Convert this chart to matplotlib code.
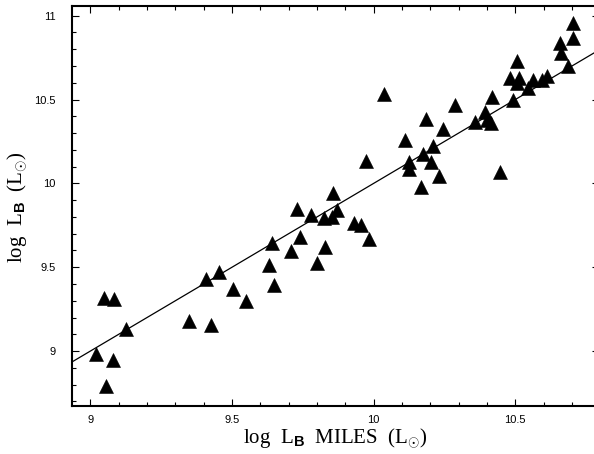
import numpy as np
import matplotlib
matplotlib.use("Agg")
import matplotlib.pyplot as plt
from matplotlib.ticker import MultipleLocator, FuncFormatter

plt.rcParams['mathtext.fontset'] = 'custom'
plt.rcParams['mathtext.rm'] = 'Liberation Serif'
plt.rcParams['mathtext.bf'] = 'Liberation Sans:bold'

# log L_B from MILES (x) against log L_B from photometry (y)
log_lb_miles = [9.021, 9.056, 9.078, 9.049, 9.082, 9.127, 9.347, 9.409, 9.426, 9.453,
                9.505, 9.550, 9.629, 9.641, 9.647, 9.708, 9.741, 9.729, 9.778, 9.800,
                9.829, 9.823, 9.853, 9.870, 9.856, 9.931, 9.955, 9.985, 9.974, 10.035,
                10.111, 10.123, 10.123, 10.166, 10.174, 10.184, 10.202, 10.211, 10.232, 10.246,
                10.287, 10.358, 10.393, 10.399, 10.413, 10.417, 10.446, 10.493, 10.481, 10.514,
                10.506, 10.505, 10.546, 10.562, 10.593, 10.611, 10.658, 10.660, 10.686, 10.703,
                10.705]
log_lb = [8.980, 8.791, 8.946, 9.314, 9.308, 9.131, 9.181, 9.429, 9.155, 9.469,
          9.370, 9.300, 9.513, 9.642, 9.394, 9.596, 9.682, 9.845, 9.811, 9.527,
          9.622, 9.792, 9.797, 9.841, 9.944, 9.765, 9.752, 9.666, 10.135, 10.533,
          10.259, 10.129, 10.084, 9.976, 10.175, 10.382, 10.126, 10.225, 10.046, 10.322,
          10.467, 10.366, 10.427, 10.378, 10.358, 10.513, 10.069, 10.497, 10.627, 10.627,
          10.596, 10.732, 10.567, 10.616, 10.616, 10.640, 10.835, 10.776, 10.702, 10.865,
          10.955]

# one-to-one relation
line_x = np.array([8.8, 11.0])

fig = plt.figure(figsize=(5.94, 4.54), dpi=100)
ax = fig.add_axes([0.1217, 0.1064, 0.886, 0.8797])

ax.plot(line_x, line_x, color='black', lw=0.9)
ax.plot(log_lb_miles, log_lb, ls='none', marker='^', ms=9.5,
        color='black', mec='black', mew=0.4)

ax.set_xlim(8.936, 10.794)
ax.set_ylim(8.674, 11.056)

fmt = FuncFormatter(lambda v, p: '%g' % v)
for axis in (ax.xaxis, ax.yaxis):
    axis.set_major_locator(MultipleLocator(0.5))
    axis.set_minor_locator(MultipleLocator(0.1))
    axis.set_major_formatter(fmt)

ax.tick_params(which='both', direction='in', top=True, right=True, width=0.8,
               labelsize=8)
ax.tick_params(which='major', length=5)
ax.tick_params(which='minor', length=3)
ax.tick_params(axis='x', pad=7)
ax.tick_params(axis='y', pad=12)
for lab in ax.get_xticklabels() + ax.get_yticklabels():
    lab.set_fontfamily('Liberation Sans')
for s in ax.spines.values():
    s.set_linewidth(1.5)

fig.text(335 / 594, 1 - 439 / 454, r'log  L$_{\mathbf{B}}$  MILES  (L$_{\odot}$)',
         ha='center', va='center', fontsize=15, family='Liberation Serif')
fig.text(18 / 594, 1 - 207 / 454, r'log  L$_{\mathbf{B}}$  (L$_{\odot}$)',
         ha='center', va='center', rotation=90, fontsize=15, family='Liberation Serif')

fig.savefig('out.png', dpi=100)
